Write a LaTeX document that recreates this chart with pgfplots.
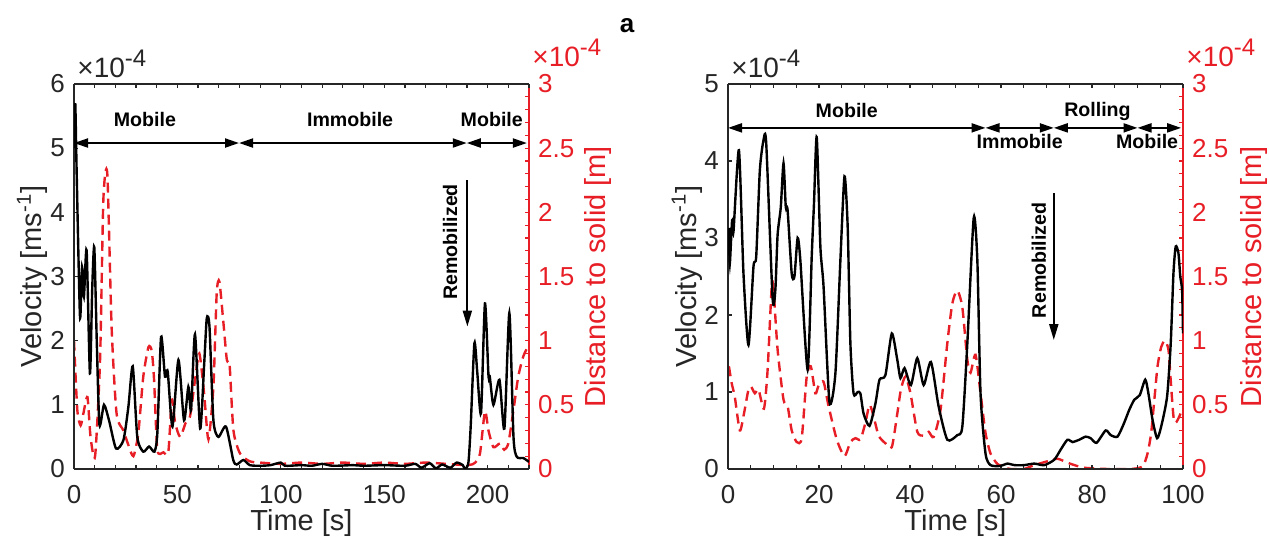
\documentclass[border=0pt]{standalone}
\usepackage{fontspec}
\setmainfont{Liberation Sans}
\usepackage{pgfplots}
\pgfplotsset{compat=1.18}
\usetikzlibrary{arrows.meta}

\definecolor{mred}{RGB}{232,30,38}
\definecolor{axgray}{RGB}{38,38,38}

\newcommand{\expo}{×10\raisebox{0.42em}{\fontsize{12}{12}\selectfont -4}}

\pgfplotsset{
  base/.style={
    scale only axis, width=227.5pt, height=192.5pt,
    /pgf/number format/assume math mode=true,
    tick label style={font=\fontsize{13}{15}\selectfont},
    label style={font=\fontsize{14.5}{17}\selectfont},
    major tick length=2pt, minor tick length=2pt,
    tick align=inside,
    every tick/.style={line width=0.6pt},
    clip mode=individual,
  },
  blackax/.style={base,
    axis x line*=box, axis y line*=left,
    axis line style={line width=0.6pt, axgray},
    every tick/.append style={axgray},
    tick label style={text=axgray},
    xticklabel style={yshift=-4.5pt},
    yticklabel style={xshift=-1pt},
    xlabel style={at={(axis description cs:0.5,0)}, anchor=center, yshift=-27pt, text=axgray},
    ylabel style={anchor=center, text=axgray},
  },
  redax/.style={base,
    axis x line=none, axis y line*=right,
    axis line style={line width=0.6pt, mred},
    every tick/.append style={mred},
    tick label style={text=mred},
    yticklabel style={xshift=1pt, inner ysep=0.5pt},
    ymin=0, ymax=3, ytick={0,0.5,1,1.5,2,2.5,3}, minor y tick num=4,
    ylabel={Distance to solid [m]},
    ylabel style={anchor=center, text=mred},
  },
  vel/.style={black, line width=1.2pt, smooth, tension=0.4},
  dist/.style={mred, line width=1.2pt, dash pattern=on 5pt off 3pt, smooth, tension=0.4},
}
\tikzset{
  ann/.style={font=\bfseries\fontsize{9.8}{12}\selectfont, text=black},
  darr/.style={{Triangle[length=7pt,width=4.5pt]}-{Triangle[length=7pt,width=4.5pt]}, line width=1pt, black},
  varr/.style={-{Triangle[length=8pt,width=4.5pt]}, line width=1pt, black},
  expnode/.style={anchor=base west, font=\fontsize{14}{15}\selectfont, inner sep=0pt},
}

\begin{document}
\begin{tikzpicture}
\useasboundingbox (-37pt,-37.5pt) rectangle (597.5pt,234.5pt);

% ---------- left panel ----------
\begin{axis}[redax, at={(0pt,0pt)}, anchor=south west, xmin=0, xmax=220,
  ylabel style={at={(axis description cs:1.1516,0.5)}}]
\addplot[dist] coordinates {
(0,1.0) (1.6,0.46) (3.2,0.34) (4.5,0.43) (6.5,0.56) (8,0.25) (10.2,0.1) (12.6,0.85)
(14.2,2.1) (16.1,2.3) (18.2,1.1) (20.6,0.43) (23.9,0.3) (26,0.2) (28.7,0.1) (31.1,0.28)
(33.5,0.72) (36,0.95) (37.6,0.92) (38.7,0.7) (40.3,0.15) (43.2,0.13) (45.6,0.13)
(47.3,0.54) (48.9,0.36) (51.3,0.25) (54,0.36) (56.1,0.41) (58.5,0.69) (60.6,0.9)
(62.9,0.59) (65,0.23) (67.4,0.64) (69,1.37) (70.3,1.46) (72.3,1.13) (73.9,0.85)
(75.2,0.82) (77.1,0.3) (80.3,0.12) (85,0.06) (90,0.05) (100,0.04) (110,0.05) (120,0.04)
(130,0.05) (140,0.04) (150,0.05) (160,0.04) (170,0.05) (180,0.04) (190.7,0.03)
(194,0.05) (196.3,0.12) (198.7,0.45) (200.4,0.3) (202.8,0.17) (206,0.2) (208,0.15)
(210,0.2) (212.5,0.46) (214.8,0.72) (217.3,0.88) (220,0.97)
};
\node[expnode, text=mred] at (rel axis cs:1,1) [xshift=1.5pt, yshift=8.5pt] {\expo};
\end{axis}

\begin{axis}[blackax, at={(0pt,0pt)}, anchor=south west,
  xmin=0, xmax=220, ymin=0, ymax=6,
  xtick={0,50,100,150,200}, minor xtick={0,10,...,220}, ytick={0,1,2,3,4,5,6},
  xlabel={Time [s]}, ylabel={Velocity [ms\textsuperscript{-1}]},
  ylabel style={at={(axis description cs:-0.0923,0.5)}}]
\addplot[vel] coordinates {
(0,5.0) (0.6,5.7) (1.3,4.6) (2.9,2.37) (3.9,3.15) (4.8,2.69) (6.1,3.41) (7.7,1.49)
(8.8,2.8) (9.8,3.46) (11,2.0) (12.3,0.69) (14.5,1.0) (17,0.75) (20.3,0.32) (23.9,0.45)
(26.3,0.97) (28.4,1.6) (30.6,0.5) (33.5,0.27) (36.3,0.35) (38.9,0.27) (40.3,0.56)
(42.1,2.06) (44,1.44) (45.3,1.52) (47.6,0.66) (50.5,1.7) (53.2,0.76) (55.3,1.28)
(56.6,0.92) (58.5,2.1) (61,0.63) (63,1.67) (64.2,2.35) (65.5,2.22) (67.4,0.76)
(69.8,0.5) (73.5,0.66) (77,0.14) (78.7,0.07) (81.9,0.14) (85,0.06) (90,0.05) (95,0.06)
(100,0.1) (102,0.05) (110,0.06) (115,0.05) (120,0.08) (125,0.05) (135,0.06) (140,0.05)
(150,0.06) (160,0.05) (165,0.08) (168,0.02) (172,0.09) (175,0.01) (178,0.07) (182,0.02)
(185,0.1) (188,0.06) (189.1,0.0) (190.7,0.1) (191.8,0.66) (193.6,1.96) (195,1.5)
(196.8,0.87) (198.7,2.58) (200.4,1.46) (201,1.45) (202.8,1.0) (205.7,1.39) (208.1,0.63)
(210.5,2.43) (212.5,0.5) (214.1,0.19) (217.3,0.17) (220,0.11)
};
\node[expnode, text=axgray] at (rel axis cs:0,1) [xshift=1.5pt, yshift=3pt] {\expo};
\node[ann] at (axis cs:34.3,5.44) {Mobile};
\node[ann] at (axis cs:133.5,5.44) {Immobile};
\node[ann] at (axis cs:202,5.44) {Mobile};
\draw[darr] (axis cs:0,5.08) -- (axis cs:79.8,5.08);
\draw[darr] (axis cs:79.8,5.08) -- (axis cs:189.9,5.08);
\draw[darr] (axis cs:189.9,5.08) -- (axis cs:219,5.08);
\node[ann, rotate=90] at (axis cs:181.8,3.54) {Remobilized};
\draw[varr] (axis cs:190.2,4.5) -- (axis cs:190.2,2.22);
\end{axis}

% ---------- right panel ----------
\begin{axis}[redax, at={(327pt,0pt)}, anchor=south west, xmin=0, xmax=100,
  ylabel style={at={(axis description cs:1.156,0.5)}}]
\addplot[dist] coordinates {
(0.2,0.8) (0.8,0.67) (1.5,0.56) (2.6,0.3) (3.5,0.43) (4.5,0.62) (5.1,0.64) (5.9,0.59)
(6.7,0.62) (7.9,0.47) (8.7,0.77) (9.6,1.42) (10,1.4) (10.9,0.93) (12.2,0.54) (13.1,0.49)
(14,0.3) (15.1,0.21) (16.2,0.24) (17.3,0.72) (18.2,0.8) (19.2,0.59) (19.9,0.65) (21,0.68)
(22.1,0.49) (23.9,0.23) (25.6,0.1) (26.9,0.21) (28,0.24) (29.1,0.23) (30.2,0.36)
(31.1,0.5) (32,0.41) (33.1,0.26) (34.6,0.2) (36,0.17) (37.2,0.43) (38,0.62) (39,0.72)
(40.1,0.59) (41.6,0.29) (43,0.26) (44.1,0.29) (45.2,0.25) (46.7,0.46) (48.2,0.98)
(49.3,1.29) (50.4,1.39) (51.5,1.26) (52.6,0.85) (53.3,0.75) (54.4,0.89) (55.5,0.59)
(56.6,0.28) (57.7,0.12) (59.2,0.04) (61,0.01) (62.1,0) (65,0) (67.3,0.03) (70.2,0.06)
(72.4,0.08) (75.3,0.04) (78.3,0.01) (83.4,0) (88.5,0) (91.1,0.02) (92.2,0.12) (93,0.28)
(93.7,0.54) (94.4,0.8) (95.2,0.95) (96,1.0) (96.8,0.93) (97.3,0.69) (97.9,0.41)
(98.4,0.36) (99.2,0.41) (99.9,0.47)
};
\node[expnode, text=mred] at (rel axis cs:1,1) [xshift=1.5pt, yshift=8.5pt] {\expo};
\end{axis}

\begin{axis}[blackax, at={(327pt,0pt)}, anchor=south west,
  xmin=0, xmax=100, ymin=0, ymax=5,
  xtick={0,20,40,60,80,100}, minor xtick={0,5,...,100}, ytick={0,1,2,3,4,5},
  xlabel={Time [s]}, ylabel={Velocity [ms\textsuperscript{-1}]},
  ylabel style={at={(axis description cs:-0.0903,0.5)}}]
\addplot[vel] coordinates {
(0.2,3.13) (0.4,2.67) (0.9,3.23) (1.2,3.08) (2.4,4.14) (3.4,2.54) (4.5,1.61) (5.6,2.63)
(6.2,2.76) (7.0,3.88) (7.8,4.27) (8.4,4.23) (9.8,2.22) (10.4,2.32) (10.9,3.04) (11.6,3.4)
(12.2,3.97) (12.7,3.4) (13.1,3.36) (14.0,2.54) (14.6,2.5) (15.3,3.0) (15.9,2.71)
(17.5,1.29) (18.4,2.76) (18.9,3.45) (19.5,4.31) (20.3,2.89) (21.0,2.37) (22.3,0.87)
(23.6,1.24) (24.7,2.71) (25.6,3.8) (26.3,3.15) (26.9,1.63) (27.6,0.98) (28.5,1.0)
(29.1,0.98) (29.8,0.72) (31.1,0.56) (32.4,0.85) (33.3,1.16) (34.6,1.22) (36.0,1.76)
(37.2,1.42) (37.9,1.18) (38.8,1.31) (40.2,1.09) (41.6,1.44) (43.0,1.09) (44.6,1.39)
(46.3,0.81) (48.2,0.38) (50.4,0.44) (51.5,0.55) (52.6,1.63) (54.0,3.26) (54.8,2.71)
(55.5,0.98) (56.6,0.2) (57.7,0.05) (59.9,0.04) (61.4,0.07) (63,0.05) (65.05,0.05)
(67.3,0.07) (69.5,0.05) (71.7,0.12) (73.1,0.25) (74.6,0.38) (75.7,0.35) (77.2,0.38)
(78.6,0.42) (79.7,0.4) (81.0,0.34) (83.0,0.5) (84.1,0.44) (85.6,0.42) (87.0,0.59)
(88.2,0.77) (89.3,0.9) (90.5,0.96) (91.7,1.16) (92.4,0.98) (93.3,0.64) (94.3,0.4)
(95.2,0.55) (96.5,0.94) (97.3,1.63) (97.9,2.54) (98.4,2.89) (99.0,2.8) (99.4,2.5)
(99.8,2.32) (100,1.76)
};
\node[expnode, text=axgray] at (rel axis cs:0,1) [xshift=1.5pt, yshift=3pt] {\expo};
\node[ann] at (axis cs:26.1,4.66) {Mobile};
\node[ann] at (axis cs:64.1,4.25) {Immobile};
\node[ann] at (axis cs:81.2,4.64) {Rolling};
\node[ann] at (axis cs:92.1,4.25) {Mobile};
\draw[darr] (axis cs:0,4.43) -- (axis cs:56.6,4.43);
\draw[darr] (axis cs:56.6,4.43) -- (axis cs:71.6,4.43);
\draw[darr] (axis cs:71.6,4.43) -- (axis cs:90,4.43);
\draw[darr] (axis cs:90,4.43) -- (axis cs:99.6,4.43);
\node[ann, rotate=90] at (axis cs:68.3,2.71) {Remobilized};
\draw[varr] (axis cs:71.6,3.58) -- (axis cs:71.6,1.675);
\end{axis}

\node[font=\bfseries\fontsize{13}{15}\selectfont] at (276.5pt,221.5pt) {a};
\end{tikzpicture}
\end{document}
